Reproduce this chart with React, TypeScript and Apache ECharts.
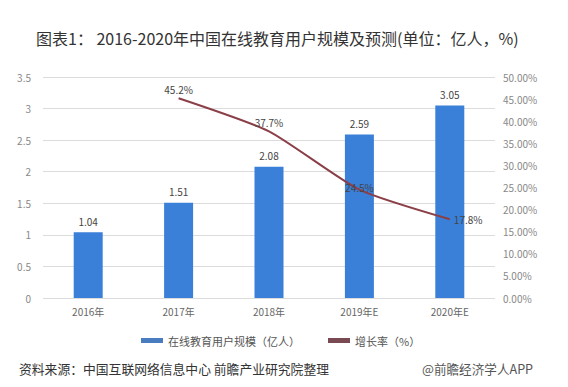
import React, { useEffect, useRef } from "react";
import * as echarts from "echarts";

const categories = ["2016年", "2017年", "2018年", "2019年E", "2020年E"];
const userScale = [1.04, 1.51, 2.08, 2.59, 3.05];
const growthRate = [null, 45.2, 37.7, 24.5, 17.8];
const leftTicks = { min: 0, max: 3.5, interval: 0.5 };
const rightTicks = { min: 0, max: 50, interval: 5 };
const titleText = "图表1： 2016-2020年中国在线教育用户规模及预测(单位：亿人，%)";
const sourceText = "资料来源：中国互联网络信息中心 前瞻产业研究院整理";
const brandText = "@前瞻经济学人APP";
const seriesNames = ["在线教育用户规模（亿人）", "增长率（%）"];

const labelPositions = ["top", "top", "top", "inside", "right"];

export default function App() {
  const ref = useRef<HTMLDivElement>(null);
  useEffect(() => {
    if (!ref.current) return;
    const chart = echarts.init(ref.current, null, { renderer: "svg" });
    const font = "'Noto Sans CJK SC', 'Noto Sans', sans-serif";
    chart.setOption({
      animation: false,
      backgroundColor: "#ffffff",
      textStyle: { fontFamily: font },
      title: {
        text: titleText,
        left: 31,
        top: 25,
        textStyle: { fontSize: 16, fontWeight: "normal", color: "#333333", fontFamily: font },
      },
      grid: { left: 43, right: 73, top: 77, bottom: 89, containLabel: false },
      legend: {
        bottom: 36,
        left: 136,
        itemGap: 28,
        itemWidth: 22,
        itemHeight: 5,
        textStyle: { fontSize: 11, color: "#555555", fontFamily: font },
        data: [
          { name: seriesNames[0], icon: "rect", itemStyle: { color: "#4a7cc0" } },
          { name: seriesNames[1], icon: "rect", itemStyle: { color: "#7a4a52" } },
        ],
      },
      xAxis: {
        type: "category",
        data: categories,
        axisLine: { show: false },
        axisTick: { show: false },
        axisLabel: { color: "#666666", fontSize: 10, margin: 8 },
      },
      yAxis: [
        {
          type: "value",
          ...leftTicks,
          axisLine: { show: false },
          axisTick: { show: false },
          splitLine: { lineStyle: { color: "#dcdcdc" } },
          axisLabel: { color: "#888888", fontSize: 10, margin: 12 },
        },
        {
          type: "value",
          ...rightTicks,
          axisLine: { show: false },
          axisTick: { show: false },
          splitLine: { show: false },
          axisLabel: {
            color: "#888888",
            fontSize: 10,
            margin: 8,
            formatter: (v: number) => v.toFixed(2) + "%",
          },
        },
      ],
      series: [
        {
          name: seriesNames[0],
          type: "bar",
          data: userScale,
          barWidth: 29,
          itemStyle: { color: "#3a7fd8" },
          label: {
            show: true,
            position: "top",
            distance: 6,
            color: "#444444",
            fontSize: 10,
            formatter: (p: any) => p.value.toFixed(2),
          },
        },
        {
          name: seriesNames[1],
          type: "line",
          yAxisIndex: 1,
          data: growthRate.map((v, i) =>
            v == null
              ? null
              : {
                  value: v,
                  label: {
                    position: labelPositions[i],
                    offset: labelPositions[i] === "inside" ? [0, -2] : [0, 0],
                  },
                }
          ),
          smooth: 0.2,
          showSymbol: true,
          symbol: "circle",
          symbolSize: 0.1,
          itemStyle: { color: "#7a4a52" },
          lineStyle: { color: "#8b3f48", width: 2 },
          label: {
            show: true,
            color: "#444444",
            fontSize: 10,
            distance: 4,
            formatter: (p: any) => p.value.toFixed(1) + "%",
          },
        },
      ],
      graphic: [
        {
          type: "text",
          left: 19,
          top: 362,
          style: { text: sourceText, fontSize: 12.8, fill: "#333333", fontFamily: font },
        },
        {
          type: "text",
          left: 422,
          top: 362,
          style: { text: brandText, fontSize: 12.6, fill: "#555555", fontFamily: font },
        },
      ],
    });
    return () => chart.dispose();
  }, []);
  return (
    <div
      ref={ref}
      style={{ position: "fixed", left: 0, top: 0, width: 568, height: 387, background: "#fff" }}
    />
  );
}
